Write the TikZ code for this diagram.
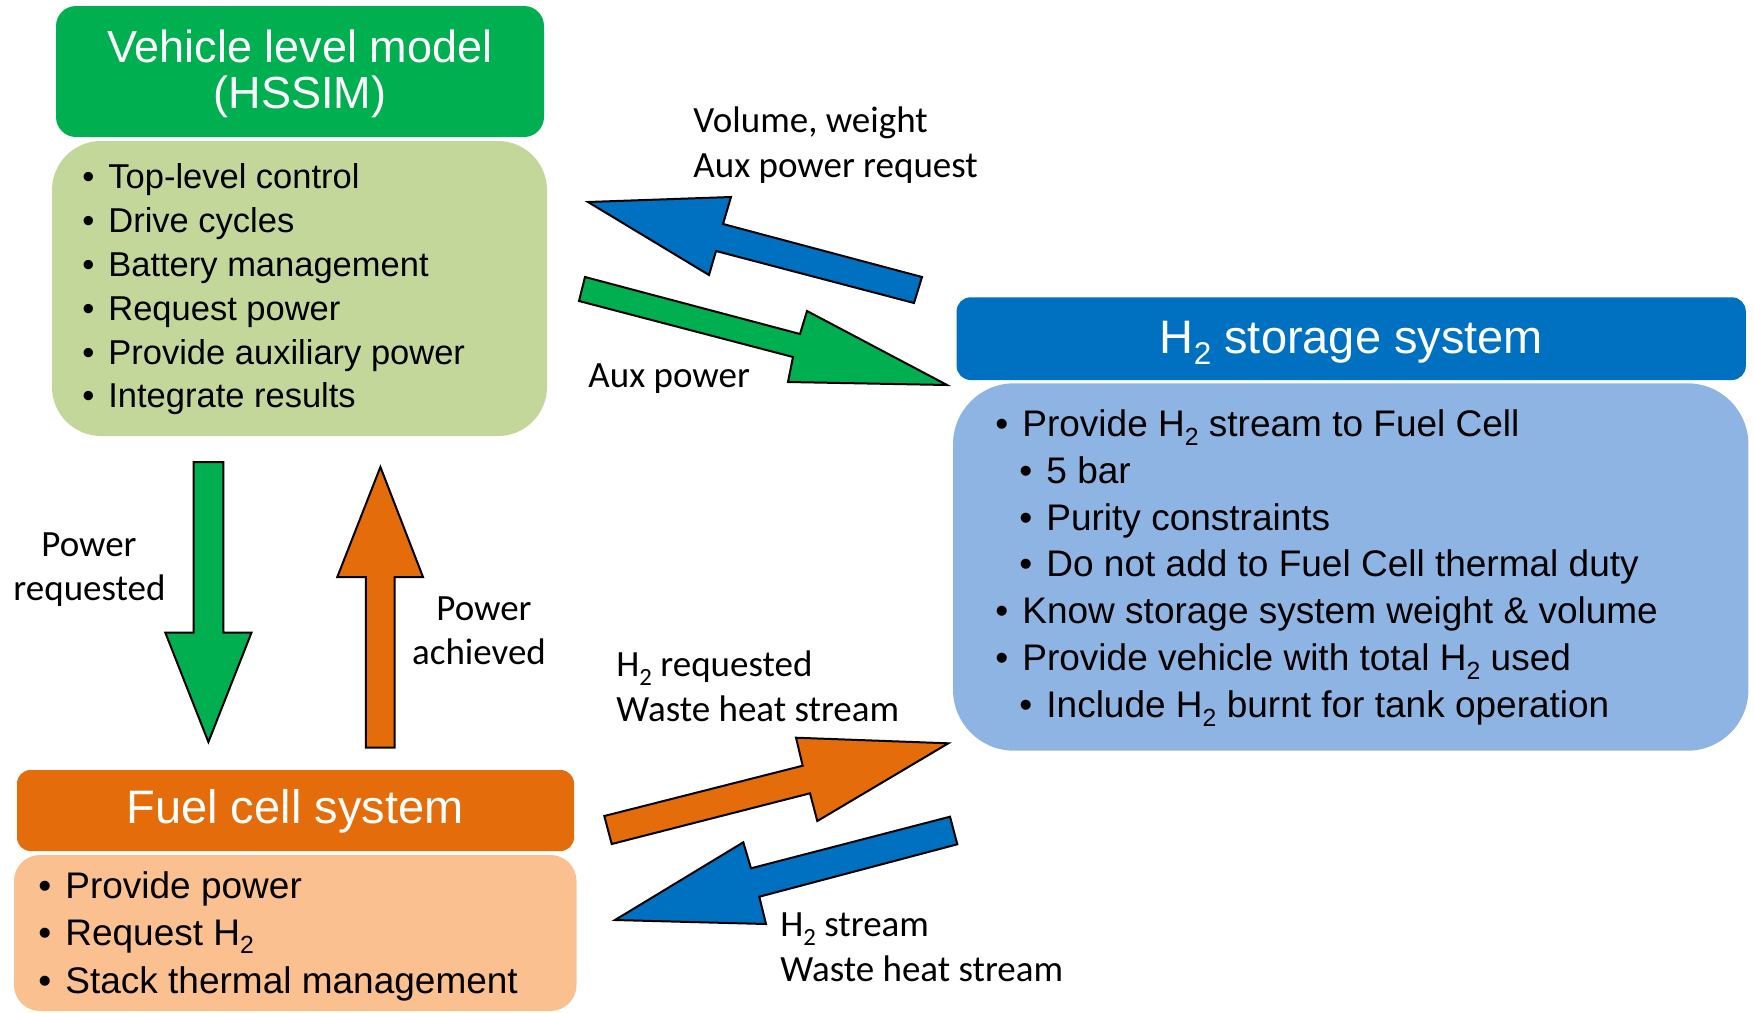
\documentclass[tikz,border=0pt]{standalone}
\usepackage{fontspec}
\usepackage{graphicx}
\setmainfont{Liberation Sans}
\newfontfamily\labfont{Carlito}
\definecolor{vgreen}{RGB}{0,176,80}
\definecolor{vlight}{RGB}{196,215,155}
\definecolor{sblue}{RGB}{0,112,192}
\definecolor{slight}{RGB}{141,180,226}
\definecolor{forange}{RGB}{228,108,10}
\definecolor{flight}{RGB}{250,192,144}
\newcommand\bl{\llap{•\hspace{7pt}}}
\newcommand\hsub[1]{\raisebox{-0.24em}{\scalebox{0.67}{#1}}}
\begin{document}
\begin{tikzpicture}[x=0.5pt,y=-0.5pt,
  box/.style={draw=none, inner sep=0pt, outer sep=0pt},
  ttl/.style={anchor=base, inner sep=0pt, text=white, font=\fontsize{23.5}{24}\selectfont},
  vttl/.style={anchor=base, inner sep=0pt, text=white, font=\fontsize{22.5}{23}\selectfont},
  vtxt/.style={anchor=base west, inner sep=0pt, font=\fontsize{17.25}{20}\selectfont},
  btxt/.style={anchor=base west, inner sep=0pt, font=\fontsize{18.5}{22}\selectfont},
  lbl/.style={anchor=base west, inner sep=0pt, font=\labfont\fontsize{18.5}{22}\selectfont},
  lblc/.style={anchor=base, inner sep=0pt, font=\labfont\fontsize{18.5}{22}\selectfont},
  blk/.style={draw=black, line width=1pt, line join=miter}]
\useasboundingbox (0,0) rectangle (1754,1012);

% boxes
\node[box, fill=vgreen, rounded corners=10pt, minimum width=244pt, minimum height=65.5pt] (vhead) at (300,71.5) {};
\node[box, fill=vlight, rounded corners=24.5pt, minimum width=247.5pt, minimum height=147.5pt] (vbody) at (299.5,288.5) {};
\node[box, fill=sblue, rounded corners=7pt, minimum width=394.6pt, minimum height=41.35pt] (shead) at (1351.2,338.65) {};
\node[box, fill=slight, rounded corners=30.5pt, minimum width=397.7pt, minimum height=183.7pt] (sbody) at (1350.7,567) {};
\node[box, fill=forange, rounded corners=6.75pt, minimum width=278.5pt, minimum height=40.5pt] (fhead) at (295.5,810.5) {};
\node[box, fill=flight, rounded corners=13pt, minimum width=281.25pt, minimum height=78pt] (fbody) at (295.25,933) {};

% titles
\node[vttl] (vt1) at (300,62) {Vehicle level model};
\node[vttl] (vt2) at (300,108) {(HSSIM)};
\node[ttl] (st) at (1351.5,353) {H\hsub{2} storage system};
\node[ttl] (ft) at (295,823) {Fuel cell system};

% vehicle bullets
\node[vtxt] (v1) at (108,188) {\bl Top-level control};
\node[vtxt] (v2) at (108,232) {\bl Drive cycles};
\node[vtxt] (v3) at (108,276) {\bl Battery management};
\node[vtxt] (v4) at (108,320) {\bl Request power};
\node[vtxt] (v5) at (108,364) {\bl Provide auxiliary power};
\node[vtxt] (v6) at (108,407) {\bl Integrate results};

% storage bullets
\node[btxt] (s1) at (1022,436.7) {\bl Provide H\hsub{2} stream to Fuel Cell};
\node[btxt] (s2) at (1046,483.3) {\bl 5 bar};
\node[btxt] (s3) at (1046,530) {\bl Purity constraints};
\node[btxt] (s4) at (1046,576.7) {\bl Do not add to Fuel Cell thermal duty};
\node[btxt] (s5) at (1022,623.3) {\bl Know storage system weight \& volume};
\node[btxt] (s6) at (1022,670.7) {\bl Provide vehicle with total H\hsub{2} used};
\node[btxt] (s7) at (1046,717.3) {\bl Include H\hsub{2} burnt for tank operation};

% fuel bullets
\node[btxt] (f1) at (65,898) {\bl Provide power};
\node[btxt] (f2) at (65,945) {\bl Request H\hsub{2}};
\node[btxt] (f3) at (65,993) {\bl Stack thermal management};

% block arrows
\draw[blk, fill=sblue] (588,202) -- (731,197) -- (723,224) -- (922,277) -- (914,303) -- (716,251) -- (709,275) -- cycle;
\draw[blk, fill=vgreen] (585,277) -- (800,334) -- (807,311) -- (947,385) -- (788,382) -- (793,357) -- (579,301) -- cycle;
\draw[blk, fill=forange] (611.7,844) -- (604.3,816) -- (802.7,765.7) -- (796,737.7) -- (948.3,743.3) -- (817.3,821) -- (810,793.3) -- cycle;
\draw[blk, fill=sblue] (950,816.7) -- (957.3,844.3) -- (759.3,896.7) -- (766,924) -- (615,920) -- (743.3,842.3) -- (751,868.3) -- cycle;
\draw[blk, fill=vgreen] (193.7,462) -- (223.4,462) -- (223.4,632.6) -- (251.5,632.6) -- (208.4,742) -- (165.3,632.6) -- (193.7,632.6) -- cycle;
\draw[blk, fill=forange] (380.4,467) -- (423,577) -- (394.6,577) -- (394.6,747.5) -- (365.8,747.5) -- (365.8,577) -- (337.3,577) -- cycle;

% labels
\node[lbl] (l1) at (693,132) {Volume, weight};
\node[lbl] (l2) at (693,177) {Aux power request};
\node[lbl] (l3) at (588,387) {Aux power};
\node[lblc] (l4) at (89,556) {Power};
\node[lblc] (l5) at (89.5,600.5) {requested};
\node[lblc] (l6) at (484,620.6) {Power};
\node[lblc] (l7) at (479,664) {achieved};
\node[lbl] (l8) at (616,676.7) {H\hsub{2} requested};
\node[lbl] (l9) at (616,721) {Waste heat stream};
\node[lbl] (l10) at (780,936.7) {H\hsub{2} stream};
\node[lbl] (l11) at (780,981.7) {Waste heat stream};
\end{tikzpicture}
\end{document}
